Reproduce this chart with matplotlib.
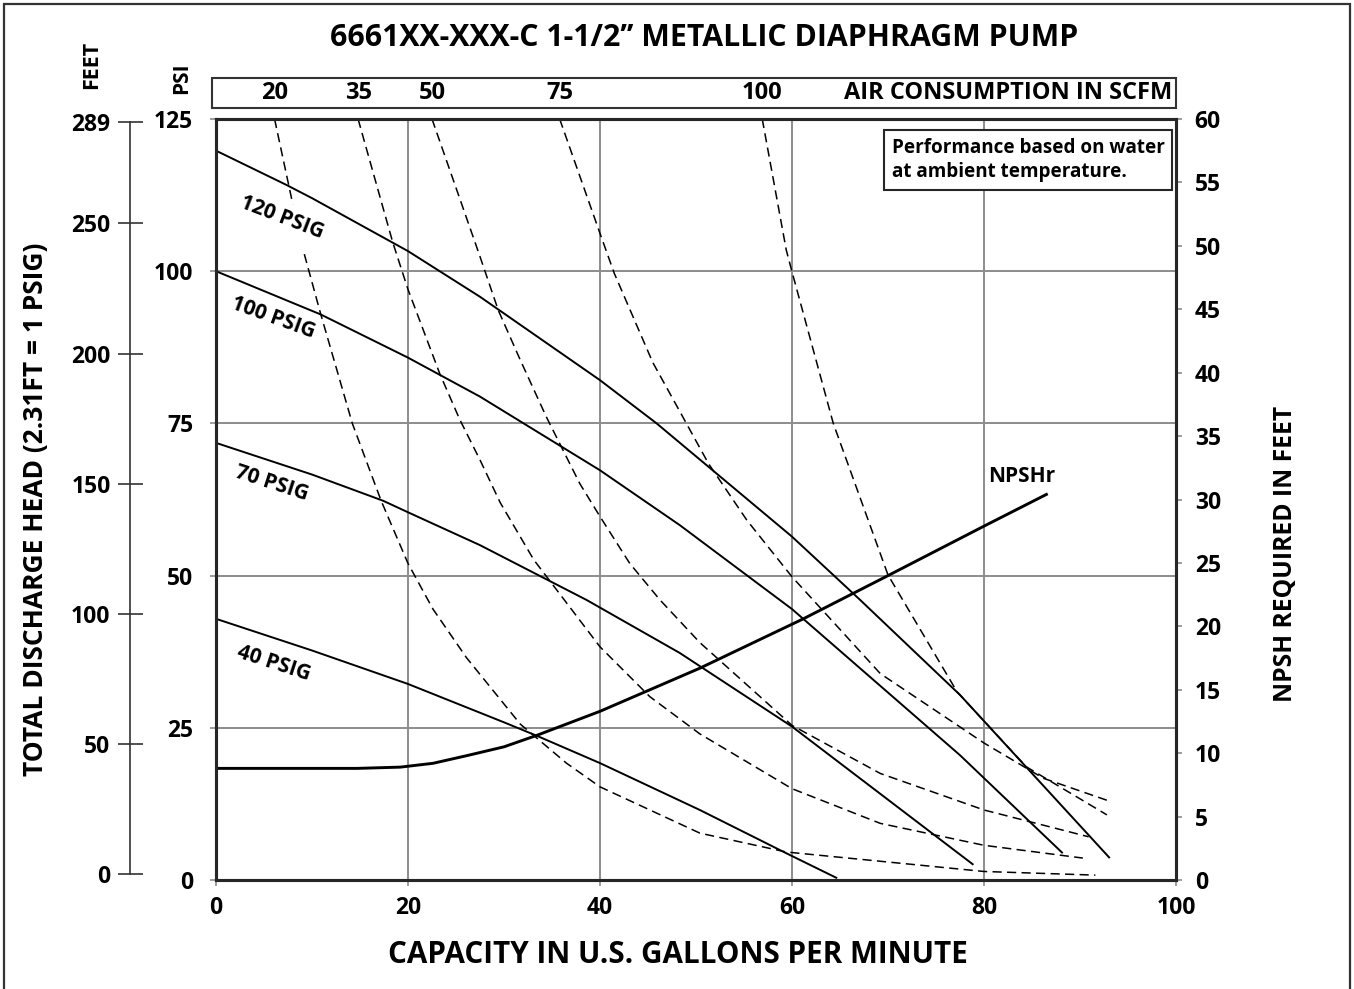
import numpy as np
import matplotlib.pyplot as plt
from matplotlib.patches import Rectangle

plt.rcParams['font.family'] = ['Open Sans', 'DejaVu Sans']
plt.rcParams['font.weight'] = 'bold'

title = "6661XX-XXX-C 1-1/2\u2019\u2019 METALLIC DIAPHRAGM PUMP"

# pressure curves: capacity (GPM) vs discharge pressure (PSI)
p120_gpm = [0, 7.3, 10, 20, 27.5, 40, 45.9, 60, 67.1, 77.5, 93.1]
p120_psi = [119.8, 114.2, 112.0, 103.3, 95.8, 82.1, 75.0, 56.4, 46.0, 30.4, 3.6]
p100_gpm = [0, 10.9, 20, 27.5, 40, 48.3, 60, 77.5, 88.2]
p100_psi = [100.0, 92.9, 85.8, 79.4, 67.3, 58.3, 44.5, 20.5, 4.4]
p70_gpm = [0, 10, 17.4, 20, 27.5, 38.6, 48.3, 60, 78.9]
p70_psi = [71.8, 66.6, 62.3, 60.4, 55.0, 46.0, 37.3, 25.2, 2.5]
p40_gpm = [0, 10, 20, 30, 33.4, 40, 50.4, 59.4, 64.7]
p40_psi = [42.9, 37.7, 32.2, 25.9, 23.7, 19.2, 11.5, 4.4, 0.3]

# air consumption curves (SCFM), dashed
a20_gpm = [6.1, 8.0, np.nan, 9.2, 10.9, 14.2, 17.2, 20, 22.6, 26.1, 31.7, 36.5, 40, 50.4, 59.4, 80, 91.6]
a20_psi = [125, 111.0, np.nan, 102.8, 93.0, 75.0, 62.3, 52.0, 44.5, 36.5, 25.6, 19.2, 15.3, 7.7, 4.6, 1.4, 0.8]
a35_gpm = [14.8, 18.4, 20, 23.3, 25.4, 27.5, 29.6, 33.1, 40, 45.2, 50.4, 60, 69.2, 80, 90.3]
a35_psi = [125, 104.8, 97.0, 83.2, 75.6, 69.0, 62.0, 52.6, 38.3, 30.1, 24.0, 15.0, 9.3, 5.7, 3.6]
a50_gpm = [22.5, 27.5, 29.4, 31.7, 34.4, 37.9, 40, 43.1, 46.25, 50.4, 60, 69.2, 80, 90.9]
a50_psi = [125, 102.4, 93.6, 85.4, 76.1, 65.1, 59.7, 52.0, 46.0, 39.0, 25.4, 17.5, 11.5, 7.1]
a75_gpm = [35.8, 40, 41.5, 45.5, 48.3, 51.3, 55.3, 60, 69.2, 80, 86.2, 92.8]
a75_psi = [125, 106.2, 99.6, 85.0, 77.0, 68.4, 59.1, 49.8, 33.9, 22.5, 16.7, 13.1]
a100_gpm = [56.9, 59.4, 60, 64.3, 70.0, 77.2, 84.4, 92.8]
a100_psi = [125, 103.5, 99.9, 75.0, 50.1, 30.9, 18.6, 10.7]

scfm_labels = ['20', '35', '50', '75', '100']

# NPSH required (feet)
npsh_gpm = [0, 14.7, 19.2, 22.6, 26.1, 30, 33.4, 40, 50.4, 61.2, 70, 80, 86.5]
npsh_ft = [8.8, 8.8, 8.9, 9.2, 9.8, 10.5, 11.4, 13.3, 16.7, 20.6, 24.0, 27.9, 30.4]

feet_ticks = [0, 50, 100, 150, 200, 250, 289]

W, H = 1354, 989
def fx(px):
    return px / W
def fy(py):
    return 1 - py / H

dark = '#262626'
grid = '#8c8c8c'

fig = plt.figure(figsize=(W / 100, H / 100), dpi=100)
fig.add_artist(Rectangle((fx(4), -0.05), fx(1346), fy(4) + 0.05, transform=fig.transFigure,
                         fill=False, ec='#333333', lw=1.6))

ax = fig.add_axes([fx(216), fy(880), fx(960), 761 / H])
ax.set_xlim(0, 100)
ax.set_ylim(0, 125)
ax.set_xticks(range(0, 101, 20))
ax.set_yticks(range(0, 126, 25))
ax.grid(True, color=grid, lw=1.4)
ax.set_axisbelow(True)
for s in ax.spines.values():
    s.set_color(dark)
    s.set_linewidth(2.2)
ax.tick_params(axis='x', direction='out', length=4.5, width=1.2, color=grid, labelsize=16.5, pad=7)
ax.tick_params(axis='y', direction='out', length=4.5, width=1.2, color=grid, labelsize=16.5, pad=12)

for g, p in [(p120_gpm, p120_psi), (p100_gpm, p100_psi), (p70_gpm, p70_psi), (p40_gpm, p40_psi)]:
    ax.plot(g, p, color='black', lw=1.4, solid_capstyle='butt')

air = [(a20_gpm, a20_psi), (a35_gpm, a35_psi), (a50_gpm, a50_psi), (a75_gpm, a75_psi), (a100_gpm, a100_psi)]
for g, p in air:
    ax.plot(g, p, color='black', lw=1.1, dashes=(6, 3.5), clip_on=False)

lab_kw = dict(rotation_mode='anchor', ha='center', va='center', fontsize=15)
ax.text(6.85, 108.8, '120 PSIG', rotation=-21, **lab_kw)
ax.text(5.97, 92.3, '100 PSIG', rotation=-20, **lab_kw)
ax.text(5.8, 65.2, '70 PSIG', rotation=-18, **lab_kw)
ax.text(5.97, 35.6, '40 PSIG', rotation=-18, **lab_kw)

# notice box
ax.add_patch(Rectangle((0.69583, 0.9067), 0.3, 0.07884, transform=ax.transAxes,
                       fc='white', ec=dark, lw=1.5, zorder=5))
ax.text(0.70417, 0.96189, 'Performance based on water', transform=ax.transAxes,
        ha='left', va='center', fontsize=13.6, zorder=6)
ax.text(0.70417, 0.93035, 'at ambient temperature.', transform=ax.transAxes,
        ha='left', va='center', fontsize=13.6, zorder=6)

# air consumption strip on top
fig.add_artist(Rectangle((fx(212), fy(108)), fx(964), 30 / H, transform=fig.transFigure,
                         fill=False, ec='#333333', lw=1.5))
for (g, p), lab in zip(air, scfm_labels):
    ax.text(g[0], 1 + 26 / 761, lab, transform=ax.get_xaxis_transform(),
            ha='center', va='center', fontsize=17, clip_on=False)
fig.text(fx(1172), fy(93), 'AIR CONSUMPTION IN SCFM', ha='right', va='center', fontsize=17)

# NPSH axis on the right
ax2 = ax.twinx()
ax2.set_ylim(0, 60)
ax2.set_yticks(range(0, 61, 5))
for s in ax2.spines.values():
    s.set_color(dark)
    s.set_linewidth(2.2)
ax2.tick_params(axis='y', direction='out', length=4.5, width=1.2, color=grid, labelsize=16.5, pad=9)
ax2.plot(npsh_gpm, npsh_ft, color='black', lw=2.1)
ax2.text(83.96, 31.8, 'NPSHr', ha='center', va='center', fontsize=15)

# feet scale on the far left
axf = fig.add_axes([fx(130), fy(874), 0.0001, 752 / H])
axf.set_ylim(0, 289)
axf.set_yticks(feet_ticks)
axf.set_xticks([])
axf.patch.set_visible(False)
for k in ['top', 'right', 'bottom']:
    axf.spines[k].set_visible(False)
axf.spines['left'].set_color('#333333')
axf.spines['left'].set_linewidth(1.2)
axf.tick_params(axis='y', direction='inout', length=18, width=1.2, color='#333333', labelsize=16.5, pad=5)

fig.text(fx(704), fy(38), title, ha='center', va='center', fontsize=21.8)
fig.text(fx(678), fy(955), 'CAPACITY IN U.S. GALLONS PER MINUTE', ha='center', va='center', fontsize=21.3)
fig.text(fx(36), fy(509), 'TOTAL DISCHARGE HEAD (2.31FT = 1 PSIG)', rotation=90,
         ha='center', va='center', fontsize=19)
fig.text(fx(1285), fy(554), 'NPSH REQUIRED IN FEET', rotation=90, ha='center', va='center', fontsize=17.7)
fig.text(fx(92), fy(65), 'FEET', rotation=90, ha='center', va='center', fontsize=15.5)
fig.text(fx(182), fy(78), 'PSI', rotation=90, ha='center', va='center', fontsize=15)

fig.savefig('out.png', dpi=100)
